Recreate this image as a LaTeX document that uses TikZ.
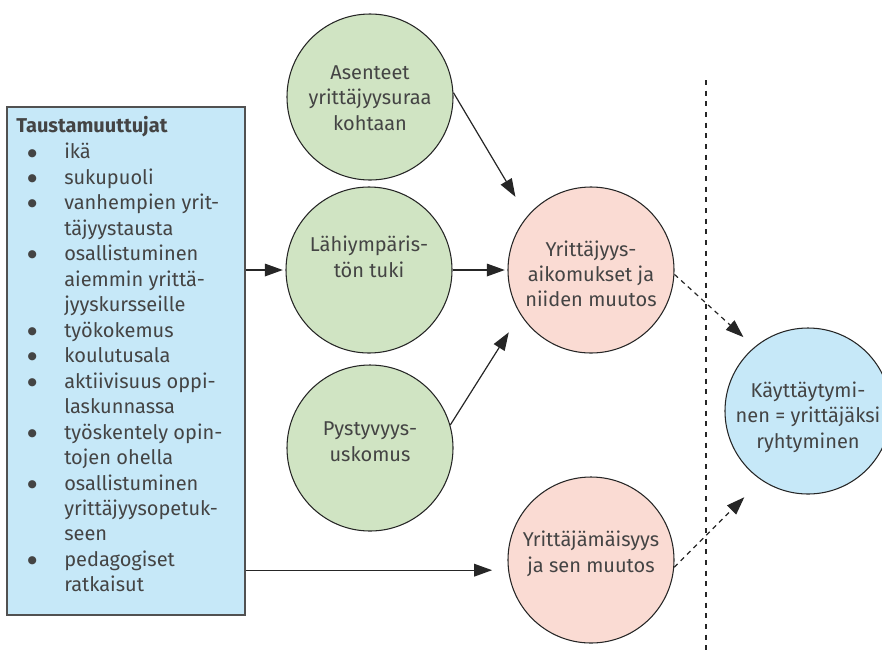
\documentclass[tikz,border=0pt]{standalone}
\usepackage{fontspec}
\setmainfont{Fira Sans}
\newfontfamily\symfont{DejaVu Sans}
\usetikzlibrary{arrows.meta,calc}
\definecolor{boxblue}{HTML}{C6E8F8}
\definecolor{cgreen}{HTML}{D0E4C3}
\definecolor{cpink}{HTML}{FADBD3}
\definecolor{txt}{HTML}{444444}
\definecolor{edge}{HTML}{262626}
\newcommand{\bul}{\makebox[36pt][l]{\hspace*{8.6pt}\raisebox{2.2pt}{\symfont\fontsize{8}{8}\selectfont ●}}}
\begin{document}
\begin{tikzpicture}[x=0.75pt,y=-0.75pt,
  circ/.style={circle, draw=edge, line width=0.8pt, minimum size=124.5pt, inner sep=0pt,
    align=center, text=txt, font=\fontsize{15}{18.9}\selectfont},
  three/.style={text height=48.2pt, text depth=0pt},
  two/.style={text height=29.3pt, text depth=0pt},
  arr/.style={-{Triangle[length=13.5pt,width=9.5pt]}, line width=0.9pt, draw=edge},
  darr/.style={arr, dash pattern=on 3.6pt off 3.2pt},
  divider/.style={draw=edge, line width=0.9pt, dash pattern=on 3.8pt off 4.2pt},
  listbox/.style={draw=edge!80, fill=boxblue, line width=1.1pt, inner sep=0pt},
]
\useasboundingbox (0,0) rectangle (882,651);
\node[listbox, minimum width=178.5pt, minimum height=381pt] (bg) at (126,361) {};
\node[anchor=base west, inner sep=0pt, text=txt, font=\fontsize{15}{19.1}\selectfont] (list) at (16,132)
{\begin{tabular}[t]{@{}l@{}l@{}}
\multicolumn{2}{@{}l@{}}{\bfseries Taustamuuttujat}\\[1.1pt]
\bul & ikä\\
\bul & sukupuoli\\
\bul & vanhempien yrit-\\
 & täjyystausta\\
\bul & osallistuminen\\
 & aiemmin yrittä-\\
 & jyyskursseille\\
\bul & työkokemus\\
\bul & koulutusala\\
\bul & aktiivisuus oppi-\\
 & laskunnassa\\
\bul & työskentely opin-\\
 & tojen ohella\\
\bul & osallistuminen\\
 & yrittäjyysopetuk-\\
 & seen\\
\bul & pedagogiset\\
 & ratkaisut
\end{tabular}};

\node[circ, three, fill=cgreen, text height=49.7pt] (A) at (370,97) {Asenteet\\yrittäjyysuraa\\kohtaan};
\node[circ, two, fill=cgreen, text depth=18.75pt] (L) at (369,270) {Lähiympäris-\\tön tuki};
\node[circ, two, fill=cgreen, text depth=9.75pt] (P) at (370,448) {Pystyvyys-\\uskomus};
\node[circ, three, fill=cpink, text height=54.9pt] (Y1) at (591,270) {Yrittäjyys-\\aikomukset ja\\niiden muutos};
\node[circ, two, fill=cpink, text depth=11.25pt] (Y2) at (591,560) {Yrittäjämäisyys\\ja sen muutos};
\node[circ, three, fill=boxblue, text height=55.7pt] (K) at (808,411) {Käyttäytymi-\\nen = yrittäjäksi\\ryhtyminen};

\coordinate (dtop) at (706,80);
\coordinate (dbot) at (706,651);
\draw[divider] (dtop) -- (dbot);

\draw[arr, shorten >=2pt] (bg.east |- L) -- (L.west);
\draw[arr, shorten >=2pt] (L.east) -- (Y1.west);
\draw[arr, shorten >=17pt] (A.3) -- (Y1.140);
\draw[arr, shorten >=16pt] (P.16) -- (Y1.212);
\draw[arr, shorten >=12pt] (bg.east |- Y2.187) -- (Y2.187);
\draw[darr, shorten >=11pt] (Y1.-3) -- (K.130);
\draw[darr, shorten >=18pt] (Y2.-5) -- (K.236);
\end{tikzpicture}
\end{document}
